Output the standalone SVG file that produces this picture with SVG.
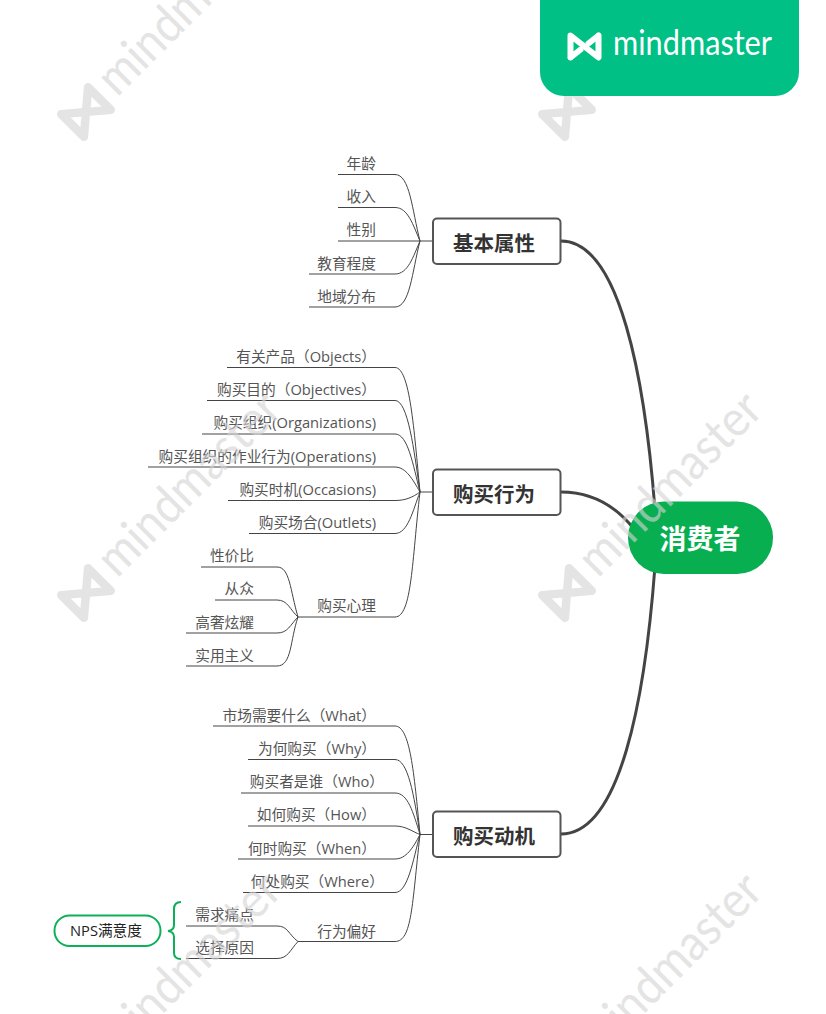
<svg xmlns="http://www.w3.org/2000/svg" width="826" height="1014" viewBox="0 0 826 1014">
<style>
text{font-family:"Open Sans","Noto Sans CJK SC",sans-serif}
.leaf{font-size:14.7px;fill:#555;text-anchor:end}
.topic rect{fill:#fff;stroke:#555;stroke-width:2}
.topic text{font-family:"Noto Sans CJK SC",sans-serif;font-size:20.500px;font-weight:700;fill:#333;text-anchor:middle}
.main{fill:none;stroke:#444;stroke-width:3}
.thin{fill:none;stroke:#444;stroke-width:1}
.wm path{fill:none;stroke:#d4d4d4;stroke-width:8.500;stroke-linecap:round;stroke-linejoin:round}
.wm text{font-family:Lato,sans-serif;font-size:50px;fill:#d4d4d4}
</style>
<defs>
<g id="mark" class="wm" opacity="0.62" transform="rotate(-45)">
<path d="M-19 16V-16L19 16V-16L-19 16"/>
<text x="32" y="12" textLength="236" lengthAdjust="spacingAndGlyphs">mindmaster</text>
</g>
</defs>
<rect width="826" height="1014" fill="#fff"/>
<g id="connectors">
<path class="main" d="M561 241C620 241 645 380 655 510"/>
<path class="main" d="M561 492C590 492 615 505 634 529"/>
<path class="main" d="M561 834C620 834 645 700 655 566"/>
<path class="thin" d="M338 174.500H395C410 174.500 412 210 420 241M338 207.500H395C408 207.500 413 225 420 241M338 241H433M309 274H395C408 274 413 257 420 241M309 307H395C410 307 412 272 420 241"/>
<path class="thin" d="M227 367.500H395C410 367.500 414 430 420 492M207 400.500H395C408 400.500 414 450 420 492M202 434H395C408 434 413 465 420 492M148 467H395C406 467 413 480 420 492M228 500.500H395C406 500.500 413 497 420 492M249 533.500H395C408 533.500 413 510 420 492M298 617H395C412 617 412 560 420 492M420 492H433"/>
<path class="thin" d="M201 567H277C290 567 290 590 298 617M215 600H277C288 600 290 610 298 617M186 633H277C288 633 290 625 298 617M186 666H277C292 666 290 640 298 617"/>
<path class="thin" d="M213 726H395C410 726 414 772 420 834.500M248 759.500H395C408 759.500 414 795 420 834.500M241 793H395C408 793 413 812 420 834.500M248 826H395C406 826 413 832 420 834.500M238 859H395C406 859 413 848 420 834.500M243 892.500H395C408 892.500 413 860 420 834.500M298 941.500H395C412 941.500 412 905 420 834.500M420 834.500H433"/>
<path class="thin" d="M186 926H277C288 926 288 934 298 941.500M186 958.500H277C288 958.500 290 950 298 941.500"/>
</g>
<g id="root"><rect x="628" y="501.500" width="145" height="72.500" rx="36" fill="#07AF50"/><text x="700" y="549" font-size="27" font-weight="700" fill="#fff" text-anchor="middle" style="font-family:'Noto Sans CJK SC',sans-serif">消费者</text></g>
<g id="t1" class="topic"><rect x="433" y="218.500" width="127.500" height="45.500" rx="4"/><text x="494" y="251">基本属性</text></g>
<g id="t2" class="topic"><rect x="433" y="469.500" width="127.500" height="45.500" rx="4"/><text x="494" y="502">购买行为</text></g>
<g id="t3" class="topic"><rect x="433" y="811.500" width="127.500" height="45.500" rx="4"/><text x="494" y="844">购买动机</text></g>
<g id="n1"><text class="leaf" x="376" y="168.500">年龄</text></g>
<g id="n2"><text class="leaf" x="376" y="201.500">收入</text></g>
<g id="n3"><text class="leaf" x="376" y="235">性别</text></g>
<g id="n4"><text class="leaf" x="376" y="269">教育程度</text></g>
<g id="n5"><text class="leaf" x="376" y="302">地域分布</text></g>
<g id="n6"><text class="leaf" x="376" y="361.500">有关产品（Objects）</text></g>
<g id="n7"><text class="leaf" x="376" y="394.500">购买目的（Objectives）</text></g>
<g id="n8"><text class="leaf" x="376" y="428">购买组织(Organizations)</text></g>
<g id="n9"><text class="leaf" x="376" y="462">购买组织的作业行为(Operations)</text></g>
<g id="n10"><text class="leaf" x="376" y="494.500">购买时机(Occasions)</text></g>
<g id="n11"><text class="leaf" x="376" y="527.500">购买场合(Outlets)</text></g>
<g id="n12"><text class="leaf" x="376" y="611">购买心理</text></g>
<g id="n13"><text class="leaf" x="254" y="561">性价比</text></g>
<g id="n14"><text class="leaf" x="254" y="594">从众</text></g>
<g id="n15"><text class="leaf" x="254" y="628">高奢炫耀</text></g>
<g id="n16"><text class="leaf" x="254" y="661">实用主义</text></g>
<g id="n17"><text class="leaf" x="376" y="721">市场需要什么（What）</text></g>
<g id="n18"><text class="leaf" x="376" y="753.500">为何购买（Why）</text></g>
<g id="n19"><text class="leaf" x="384" y="787">购买者是谁（Who）</text></g>
<g id="n20"><text class="leaf" x="376" y="820">如何购买（How）</text></g>
<g id="n21"><text class="leaf" x="376" y="854">何时购买（When）</text></g>
<g id="n22"><text class="leaf" x="384" y="886.500">何处购买（Where）</text></g>
<g id="n23"><text class="leaf" x="376" y="937">行为偏好</text></g>
<g id="n24"><text class="leaf" x="254" y="920">需求痛点</text></g>
<g id="n25"><text class="leaf" x="254" y="952.500">选择原因</text></g>
<g id="brace"><path d="M181 902C176 902 174 904 174 909V925C174 928 172 930.500 168 931C172 931.500 174 934 174 937V953C174 957 176 959 181 959" fill="none" stroke="#0BB058" stroke-width="2"/></g>
<g id="nps"><rect x="54.500" y="915.500" width="106" height="30.500" rx="15" fill="#fff" stroke="#0BB058" stroke-width="2"/><text x="106" y="936" font-size="14.700" fill="#222" text-anchor="middle">NPS满意度</text></g>
<g id="watermarks">
<use href="#mark" transform="translate(86 112)"/>
<use href="#mark" transform="translate(567 112)"/>
<use href="#mark" transform="translate(86 593)"/>
<use href="#mark" transform="translate(567 593)"/>
<use href="#mark" transform="translate(86 1074)"/>
<use href="#mark" transform="translate(567 1074)"/>
</g>
<g id="banner">
<path d="M540 0H799V72A24 24 0 0 1 775 96H564A24 24 0 0 1 540 72Z" fill="#00C085"/>
<path d="M570.500 57.500V35.500L598.500 57.500V35.500M598.500 35.500L589 43M580 50L570.500 57.500" fill="none" stroke="#fff" stroke-width="6" stroke-linecap="round" stroke-linejoin="round"/>
<path d="M589 43L580 50" stroke="#fff" stroke-opacity=".5" stroke-width="6"/>
<text x="613" y="55" font-size="34" font-weight="400" fill="#fff" textLength="159" lengthAdjust="spacingAndGlyphs" style="font-family:Lato,sans-serif">mindmaster</text>
</g>
</svg>
